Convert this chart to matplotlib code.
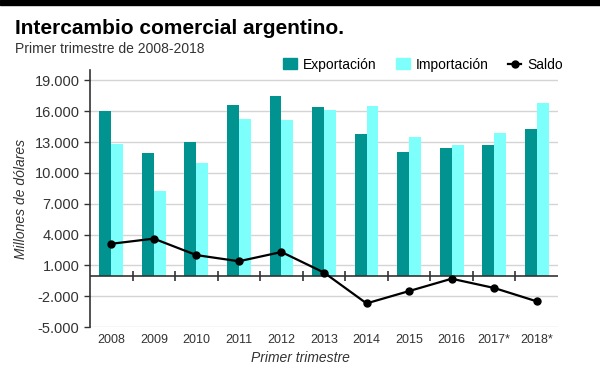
import matplotlib
matplotlib.use("Agg")
import matplotlib.pyplot as plt
import numpy as np
from matplotlib.lines import Line2D
from matplotlib.patches import Patch

plt.rcParams['font.family'] = ['Liberation Sans Narrow', 'Liberation Sans', 'DejaVu Sans']

years = ['2008', '2009', '2010', '2011', '2012', '2013', '2014', '2015', '2016', '2017*', '2018*']
exportacion = [16000, 11900, 13000, 16600, 17500, 16400, 13750, 12000, 12400, 12700, 14300]
importacion = [12800, 8200, 11000, 15200, 15150, 16100, 16500, 13500, 12700, 13900, 16800]
saldo = [3100, 3600, 2000, 1400, 2300, 300, -2700, -1500, -300, -1200, -2500]

c_exp = '#00938f'
c_imp = '#7dfffb'

fig = plt.figure(figsize=(6, 3.65), dpi=100)
ax = fig.add_axes([0.15, 0.104, 0.78, 0.704])

x = np.arange(len(years))
w = 0.28
ax.bar(x - w / 2, exportacion, w, color=c_exp, zorder=2)
ax.bar(x + w / 2, importacion, w, color=c_imp, zorder=2)
ax.plot(x, saldo, color='black', lw=1.6, marker='o', ms=5, zorder=4)

ax.set_xlim(-0.5, len(years) - 0.5)
ax.set_ylim(-5000, 20000)
yt = np.arange(-5000, 19001, 3000)
ax.set_yticks(yt)
ax.set_yticklabels([f'{v:,}'.replace(',', '.') for v in yt], fontsize=10.5, color='#333333')
ax.grid(axis='y', color='#d4d4d4', lw=1, zorder=0)
ax.set_xticks(x)
ax.set_xticklabels(years, fontsize=9, color='#333333')
ax.tick_params(axis='x', length=0, pad=5)
ax.tick_params(axis='y', length=4, color='#333333', width=1)

for s in ['top', 'right', 'bottom']:
    ax.spines[s].set_visible(False)
ax.spines['left'].set_color('#333333')
ax.spines['left'].set_linewidth(1.2)

ax.axhline(0, color='#333333', lw=1.2, zorder=3)
sec = ax.secondary_xaxis(5000 / 25000)
sec.spines['bottom'].set_visible(False)
sec.set_xticks(np.arange(0.5, len(years) - 0.5, 1))
sec.tick_params(direction='inout', length=7, width=1.2, color='#333333', labelbottom=False)

ax.set_ylabel('Millones de dólares', fontsize=10, style='italic', color='#333333', labelpad=5)
fig.text(0.5, 0.02, 'Primer trimestre', fontsize=10, style='italic', color='#333333', ha='center', va='center')

fig.patches.append(plt.Rectangle((0, 0.985), 1, 0.015, transform=fig.transFigure, color='black'))
fig.text(0.025, 0.922, 'Intercambio comercial argentino.', fontsize=15, fontweight='bold', va='center')
fig.text(0.025, 0.865, 'Primer trimestre de 2008-2018', fontsize=10, color='#333333', va='center')

handles = [Patch(color=c_exp), Patch(color=c_imp),
           Line2D([], [], color='black', marker='o', ms=5, lw=1.6)]
fig.legend(handles, ['Exportación', 'Importación', 'Saldo'], loc='center', bbox_to_anchor=(0.705, 0.823),
           ncol=3, frameon=False, fontsize=10, handlelength=1.0, handleheight=0.8,
           columnspacing=1.4, handletextpad=0.4)

fig.savefig('out.png', dpi=100)
